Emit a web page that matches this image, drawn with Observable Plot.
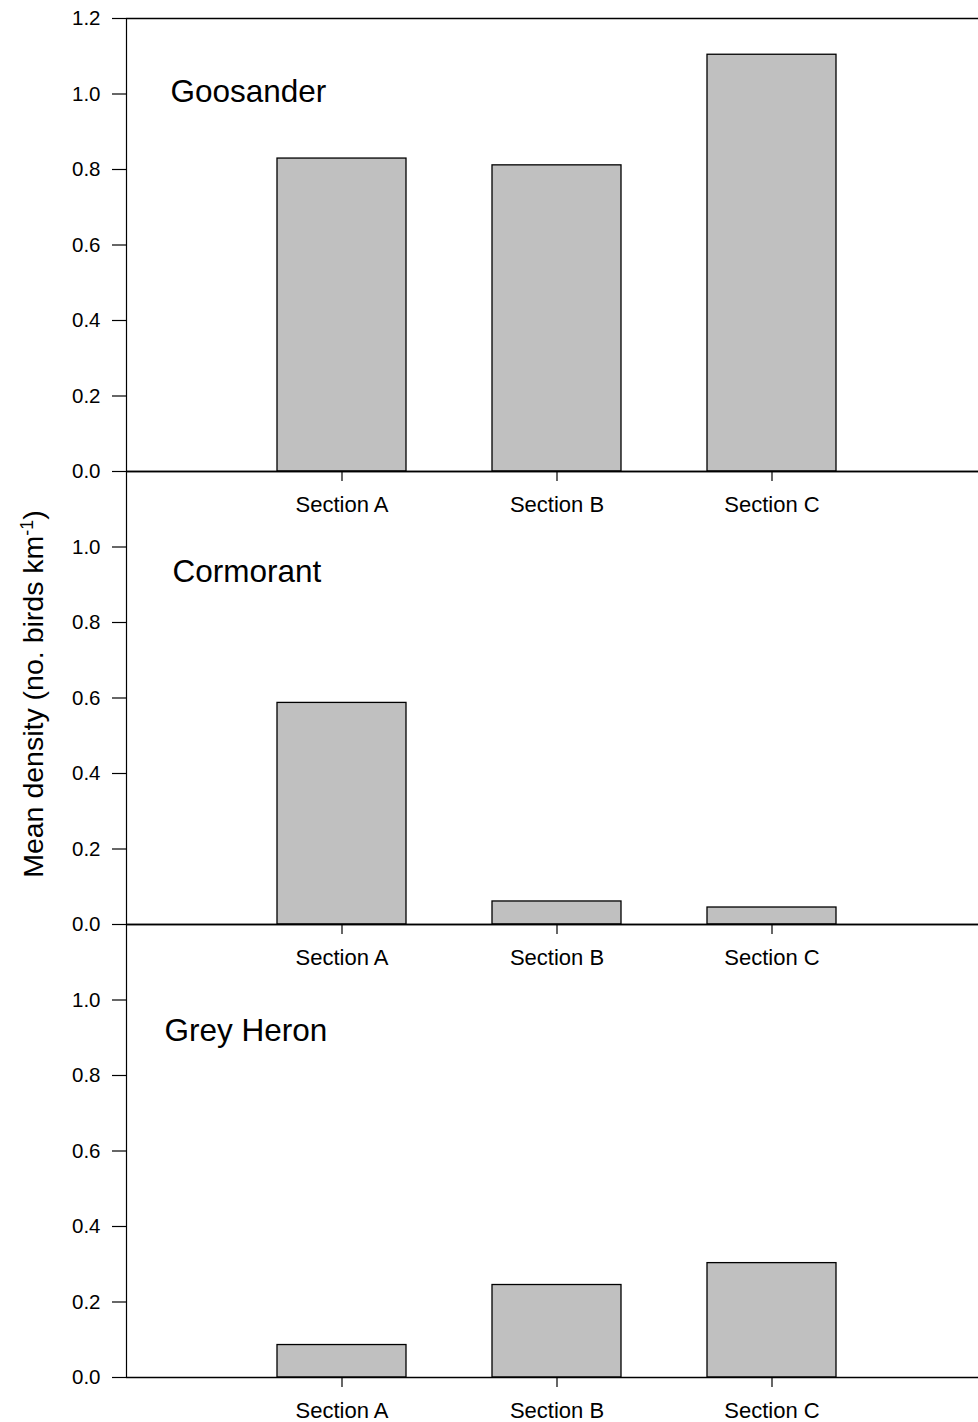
<!DOCTYPE html>
<html>
<head>
<meta charset="utf-8">
<script src="https://cdn.jsdelivr.net/npm/d3@7"></script>
<script src="https://cdn.jsdelivr.net/npm/@observablehq/plot@0.6"></script>
<style>
  html, body { margin: 0; padding: 0; background: white; overflow: hidden; }
</style>
</head>
<body>
<div id="chart"></div>
<script>
// ---- data ----
const sections = ["Section A", "Section B", "Section C"];
const species = ["Goosander", "Cormorant", "Grey Heron"];
const goosander = [0.829, 0.811, 1.104];
const cormorant = [0.587, 0.061, 0.045];
const greyHeron = [0.086, 0.245, 0.303];
const yTicks = [0, 0.2, 0.4, 0.6, 0.8, 1.0];
const yTopTick = [1.2];
const yLabelMain = "Mean density (no. birds km";
const yLabelSup = "-1";
const yLabelEnd = ")";

const seriesValues = [goosander, cormorant, greyHeron];
const rows = species.flatMap((sp, i) =>
  sections.map((s, j) => ({species: sp, section: s, value: seriesValues[i][j]}))
);

// label placement (style only)
const labelOffset = {
  "Goosander": {dx: 44, dy: 73},
  "Cormorant": {dx: 46, dy: 100},
  "Grey Heron": {dx: 38, dy: 106}
};

const font = "'Liberation Sans', Arial, Helvetica, sans-serif";
const fullLabel = yLabelMain + yLabelSup + yLabelEnd;

const chart = Plot.plot({
  width: 978,
  height: 1422,
  marginTop: 17,
  marginBottom: 45,
  marginLeft: 126,
  marginRight: 0,
  style: {fontFamily: font, color: "black", background: "white", overflow: "visible"},
  x: {domain: sections, paddingInner: 0.4, paddingOuter: 0.677, align: 0.517, axis: null},
  y: {domain: [0, 1.2], axis: null},
  fy: {domain: species, padding: 0, axis: null},
  marks: [
    Plot.barY(rows, {x: "section", y: "value", fy: "species", fill: "#c0c0c0", stroke: "black", strokeWidth: 1.3}),
    Plot.ruleY([0], {stroke: "black", strokeWidth: 1.6}),
    Plot.ruleY(yTopTick, {stroke: "black", strokeWidth: 1.6}),
    Plot.frame({anchor: "left", stroke: "black", strokeWidth: 1.2}),
    Plot.axisY({ticks: yTicks, tickFormat: d3.format(".1f"), tickSize: 14, tickPadding: 12, fontSize: 20.5, label: null, stroke: "black", strokeWidth: 1.2}),
    Plot.axisY({ticks: yTopTick, tickFormat: d3.format(".1f"), tickSize: 14, tickPadding: 12, fontSize: 20.5, label: null, facetAnchor: "top", stroke: "black", strokeWidth: 1.2}),
    Plot.axisX({tickSize: 10, tickPadding: 15, fontSize: 22, label: null, facetAnchor: null, stroke: "black", strokeWidth: 1.2}),
    ...species.map(sp => Plot.text([sp], {
      fy: d => d, text: d => d, frameAnchor: "top-left", textAnchor: "start", lineAnchor: "middle",
      dx: labelOffset[sp].dx, dy: labelOffset[sp].dy, fontSize: 31.5, fill: "black"
    })),
    Plot.text([species[1]], {
      fy: d => d, text: () => fullLabel, frameAnchor: "left", rotate: -90,
      dx: -93, dy: -4, fontSize: 28.5, textAnchor: "middle", lineAnchor: "middle", fill: "black"
    })
  ]
});

// superscript for the axis label
d3.select(chart).selectAll("text").filter(function() { return this.textContent === fullLabel; })
  .each(function() {
    const t = d3.select(this);
    t.text(null);
    t.append("tspan").text(yLabelMain);
    t.append("tspan").attr("dy", "-10px").attr("font-size", "18px").text(yLabelSup);
    t.append("tspan").attr("dy", "10px").text(yLabelEnd);
  });

document.getElementById("chart").appendChild(chart);
</script>
</body>
</html>
